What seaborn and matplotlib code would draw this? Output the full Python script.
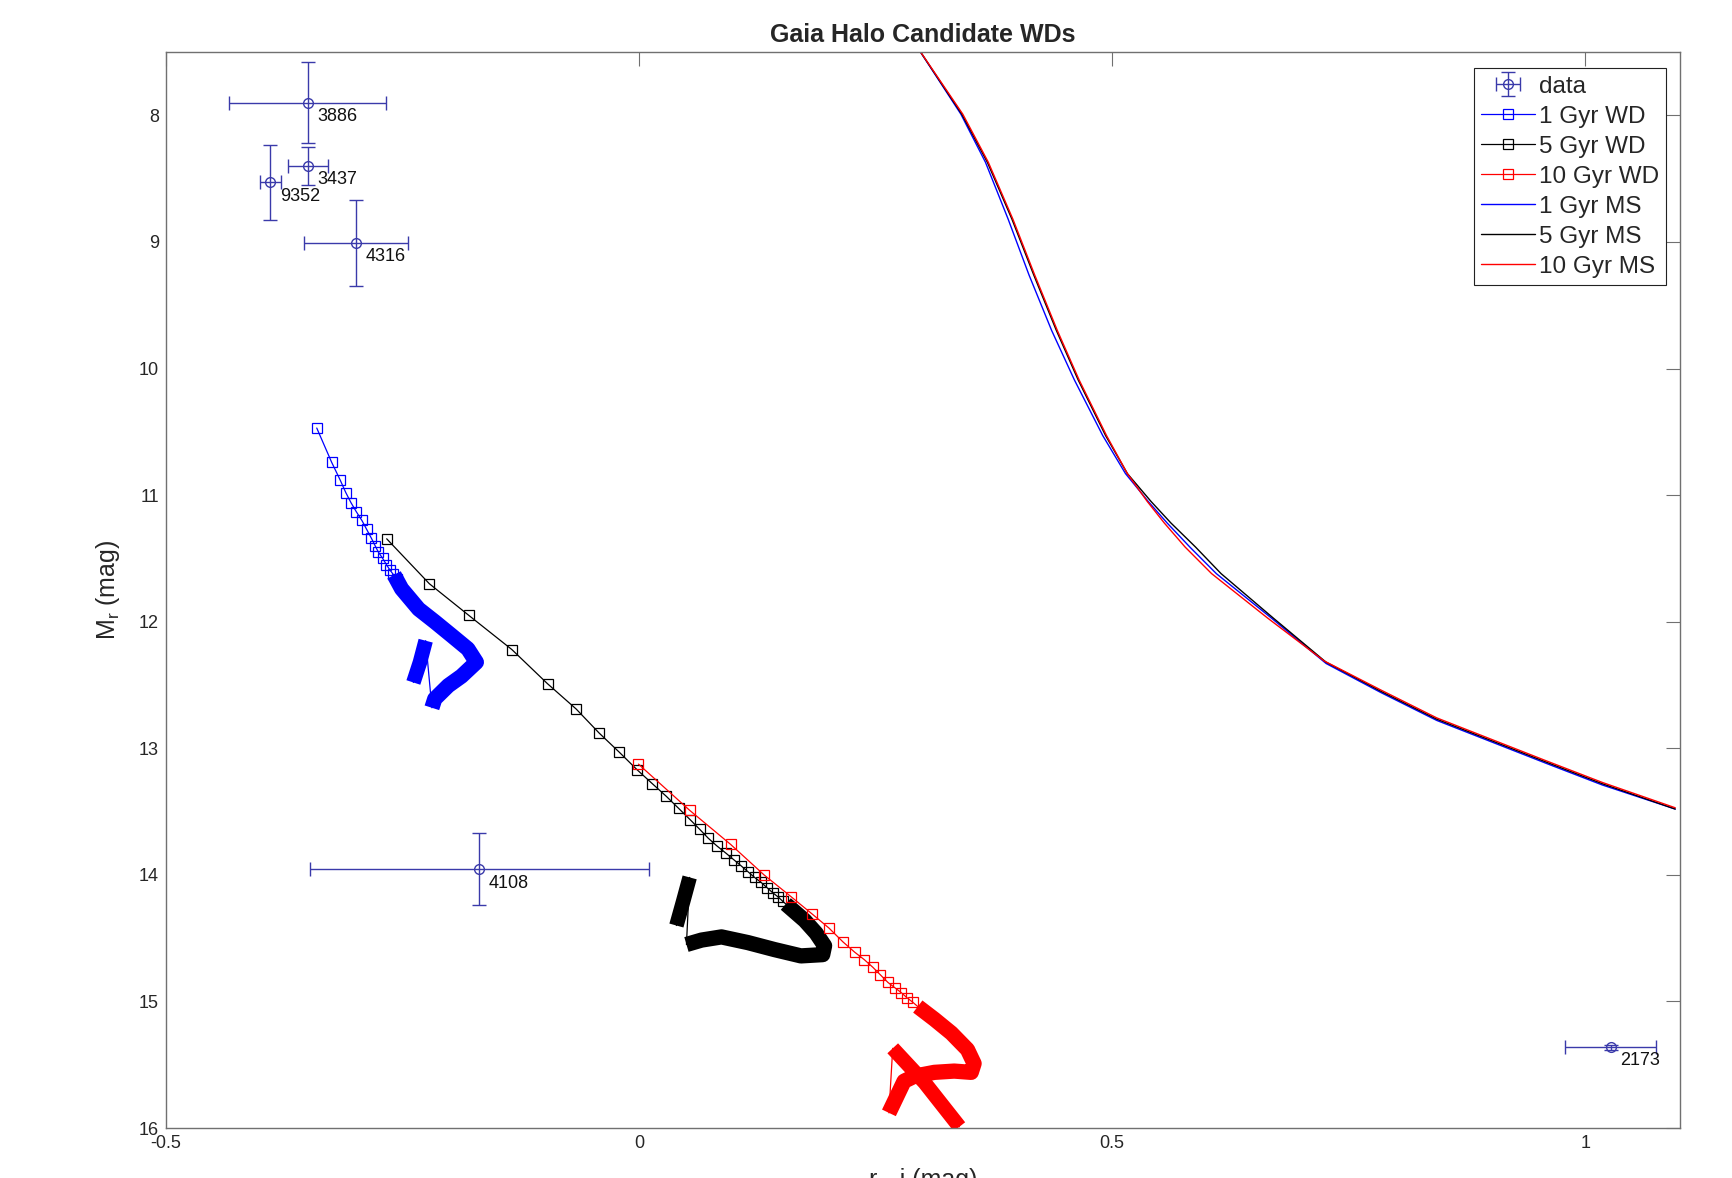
import numpy as np
import matplotlib
matplotlib.use('Agg')
import matplotlib.pyplot as plt
import seaborn as sns

# Candidatos (r - i, M_r) con barras de error
names = ['3886', '3437', '9352', '4316', '4108', '2173']
data_x = [-0.350, -0.350, -0.390, -0.299, -0.169, 1.027]
data_y = [7.90, 8.40, 8.53, 9.005, 13.955, 15.36]
data_xerr = [0.083, 0.021, 0.011, 0.055, 0.179, 0.048]
data_yerr = [0.32, 0.15, 0.295, 0.34, 0.283, 0.02]

# Trazas de enfriamiento WD: parte con marcadores, parte densa (gancho) y tramo final
wd1_x = [-0.3407, -0.325, -0.316, -0.310, -0.3045, -0.299, -0.293, -0.288, -0.283, -0.279, -0.2756, -0.271, -0.267,
         -0.2635, -0.260, -0.256]
wd1_y = [10.47, 10.74, 10.88, 10.98, 11.06, 11.13, 11.20, 11.27, 11.34, 11.40, 11.45, 11.50, 11.55,
         11.59, 11.625, 11.66]
wd1_hook_x = [-0.259, -0.251, -0.233, -0.216, -0.198, -0.181, -0.172, -0.1877, -0.2017, -0.216, -0.219]
wd1_hook_y = [11.63, 11.74, 11.90, 12.00, 12.11, 12.215, 12.32, 12.43, 12.505, 12.61, 12.68]
wd1_tail_x = [-0.2256, -0.2316, -0.2386]
wd1_tail_y = [12.15, 12.32, 12.48]

wd5_x = [-0.2668, -0.2217, -0.180, -0.1345, -0.0968, -0.0665, -0.0422, -0.0211, -0.0021, 0.0140, 0.0288,
         0.0418, 0.0542, 0.064, 0.073, 0.082, 0.092, 0.100, 0.108, 0.115, 0.122, 0.129, 0.135, 0.141, 0.147, 0.152]
wd5_y = [11.345, 11.70, 11.95, 12.22, 12.49, 12.69, 12.88, 13.03, 13.17, 13.28, 13.38,
         13.475, 13.566, 13.64, 13.71, 13.77, 13.83, 13.88, 13.93, 13.975, 14.02, 14.06, 14.10, 14.14, 14.175, 14.21]
wd5_hook_x = [0.155, 0.175, 0.187, 0.196, 0.194, 0.171, 0.143, 0.115, 0.087, 0.066, 0.050]
wd5_hook_y = [14.23, 14.36, 14.46, 14.56, 14.63, 14.64, 14.59, 14.535, 14.49, 14.515, 14.55]
wd5_tail_x = [0.0534, 0.0465, 0.0394]
wd5_tail_y = [14.02, 14.21, 14.40]

wd10_x = [-0.0007, 0.0534, 0.0968, 0.132, 0.161, 0.183, 0.2006, 0.2155, 0.2277, 0.238, 0.247, 0.255,
          0.263, 0.270, 0.277, 0.283, 0.289]
wd10_y = [13.125, 13.49, 13.76, 14.0, 14.175, 14.31, 14.42, 14.53, 14.61, 14.67, 14.73, 14.79,
          14.85, 14.89, 14.93, 14.97, 15.005]
wd10_hook_x = [0.2945, 0.312, 0.330, 0.347, 0.354, 0.351, 0.333, 0.312, 0.291, 0.280, 0.264]
wd10_hook_y = [15.04, 15.14, 15.25, 15.38, 15.49, 15.56, 15.55, 15.56, 15.59, 15.63, 15.88]
wd10_tail_x = [0.268, 0.3016, 0.3385]
wd10_tail_y = [15.37, 15.64, 15.99]

# Secuencia principal
ms1_x = [0.293, 0.340, 0.366, 0.390, 0.412, 0.436, 0.460, 0.490, 0.514, 0.538, 0.558, 0.582, 0.610, 0.668, 0.726, 0.784, 0.843, 0.901, 0.959, 1.018, 1.095]
ms1_y = [7.45, 7.99, 8.37, 8.82, 9.26, 9.70, 10.09, 10.53, 10.83, 11.05, 11.22, 11.41, 11.62, 11.97, 12.33, 12.56, 12.78, 12.95, 13.12, 13.29, 13.48]
ms5_x = [0.293, 0.341, 0.368, 0.394, 0.417, 0.441, 0.464, 0.493, 0.516, 0.541, 0.562, 0.588, 0.615, 0.670, 0.726, 0.784, 0.843, 0.901, 0.959, 1.018, 1.095]
ms5_y = [7.45, 7.99, 8.37, 8.82, 9.26, 9.70, 10.09, 10.53, 10.83, 11.05, 11.22, 11.41, 11.62, 11.97, 12.32, 12.55, 12.77, 12.94, 13.11, 13.28, 13.48]
ms10_x = [0.293, 0.342, 0.369, 0.395, 0.418, 0.442, 0.465, 0.494, 0.516, 0.537, 0.555, 0.577, 0.605, 0.664, 0.724, 0.784, 0.843, 0.901, 0.959, 1.018, 1.095]
ms10_y = [7.45, 7.99, 8.37, 8.82, 9.26, 9.70, 10.09, 10.53, 10.83, 11.05, 11.22, 11.41, 11.62, 11.97, 12.31, 12.54, 12.76, 12.93, 13.10, 13.27, 13.47]

sns.set_theme(style='white')
plt.rcParams['font.family'] = ['Liberation Sans', 'DejaVu Sans']

fig = plt.figure(figsize=(17.33, 11.78), dpi=100)
ax = fig.add_axes([0.0958, 0.0424, 0.8736, 0.9134])

data_color = '#3a3aaa'
eb = ax.errorbar(data_x, data_y, xerr=data_xerr, yerr=data_yerr, fmt='o', color=data_color,
                 mfc='none', ms=7, mew=1, elinewidth=1, capsize=5, capthick=1, label='data')
for n, x, y in zip(names, data_x, data_y):
    ax.annotate(n, (x, y), xytext=(7, -10), textcoords='offset points',
                ha='left', va='center', fontsize=13, color='#111111')

tracks = [
    ('1 Gyr WD', '#0000ff', wd1_x, wd1_y, wd1_hook_x, wd1_hook_y, wd1_tail_x, wd1_tail_y),
    ('5 Gyr WD', '#000000', wd5_x, wd5_y, wd5_hook_x, wd5_hook_y, wd5_tail_x, wd5_tail_y),
    ('10 Gyr WD', '#ff0000', wd10_x, wd10_y, wd10_hook_x, wd10_hook_y, wd10_tail_x, wd10_tail_y),
]
handles = [eb]
for label, c, x, y, hx, hy, tx, ty in tracks:
    # tramo fino que une todo
    sns.lineplot(x=x[-1:] + hx + tx, y=y[-1:] + hy + ty, sort=False, estimator=None,
                 color=c, lw=0.9, ax=ax)
    # zona densa de marcadores -> banda gruesa
    ax.plot(hx, hy, color=c, lw=11, solid_capstyle='butt', solid_joinstyle='round')
    ax.plot(tx, ty, color=c, lw=10.5, solid_capstyle='butt')
    sns.lineplot(x=x, y=y, sort=False, estimator=None, color=c, lw=0.9, ax=ax,
                 marker='s', markersize=7, markerfacecolor='none', markeredgecolor=c,
                 markeredgewidth=0.9)
    handles.append(plt.Line2D([], [], color=c, lw=0.9, marker='s', ms=7, mfc='none', mec=c, mew=0.9, label=label))

for label, c, x, y in [('1 Gyr MS', '#0000ff', ms1_x, ms1_y),
                       ('5 Gyr MS', '#000000', ms5_x, ms5_y),
                       ('10 Gyr MS', '#ff0000', ms10_x, ms10_y)]:
    sns.lineplot(x=x, y=y, sort=False, estimator=None, color=c, lw=1.0, ax=ax)
    handles.append(plt.Line2D([], [], color=c, lw=1.0, label=label))

ax.set_xlim(-0.5, 1.1)
ax.set_ylim(16, 7.5)
ax.set_xticks([-0.5, 0, 0.5, 1])
ax.set_xticklabels(['-0.5', '0', '0.5', '1'])
ax.set_yticks(range(8, 17))

for s in ax.spines.values():
    s.set_color('#707070')
    s.set_linewidth(1)
ax.tick_params(direction='in', length=10, width=0.8, top=True, right=True,
               colors='#707070', labelcolor='#262626', labelsize=13, pad=5)

ax.set_title('Gaia Halo Candidate WDs', fontsize=18, fontweight='bold', pad=7)
ax.set_ylabel(r'$\mathregular{M_r}$ (mag)', fontsize=18)
ax.yaxis.set_label_coords(-0.029, 0.5)
ax.set_xlabel('r - i (mag)', fontsize=18, va='top')
ax.xaxis.set_label_coords(0.5, -0.037)

leg = ax.legend(handles=handles, loc='upper right', bbox_to_anchor=(0.991, 0.985),
                borderaxespad=0, fontsize=17.5, handlelength=2.2, handletextpad=0.18,
                labelspacing=0.33, fancybox=False, framealpha=1, edgecolor='#222222',
                borderpad=0.3)
leg.get_frame().set_linewidth(0.8)

fig.savefig('out.png', dpi=100, facecolor='white')
